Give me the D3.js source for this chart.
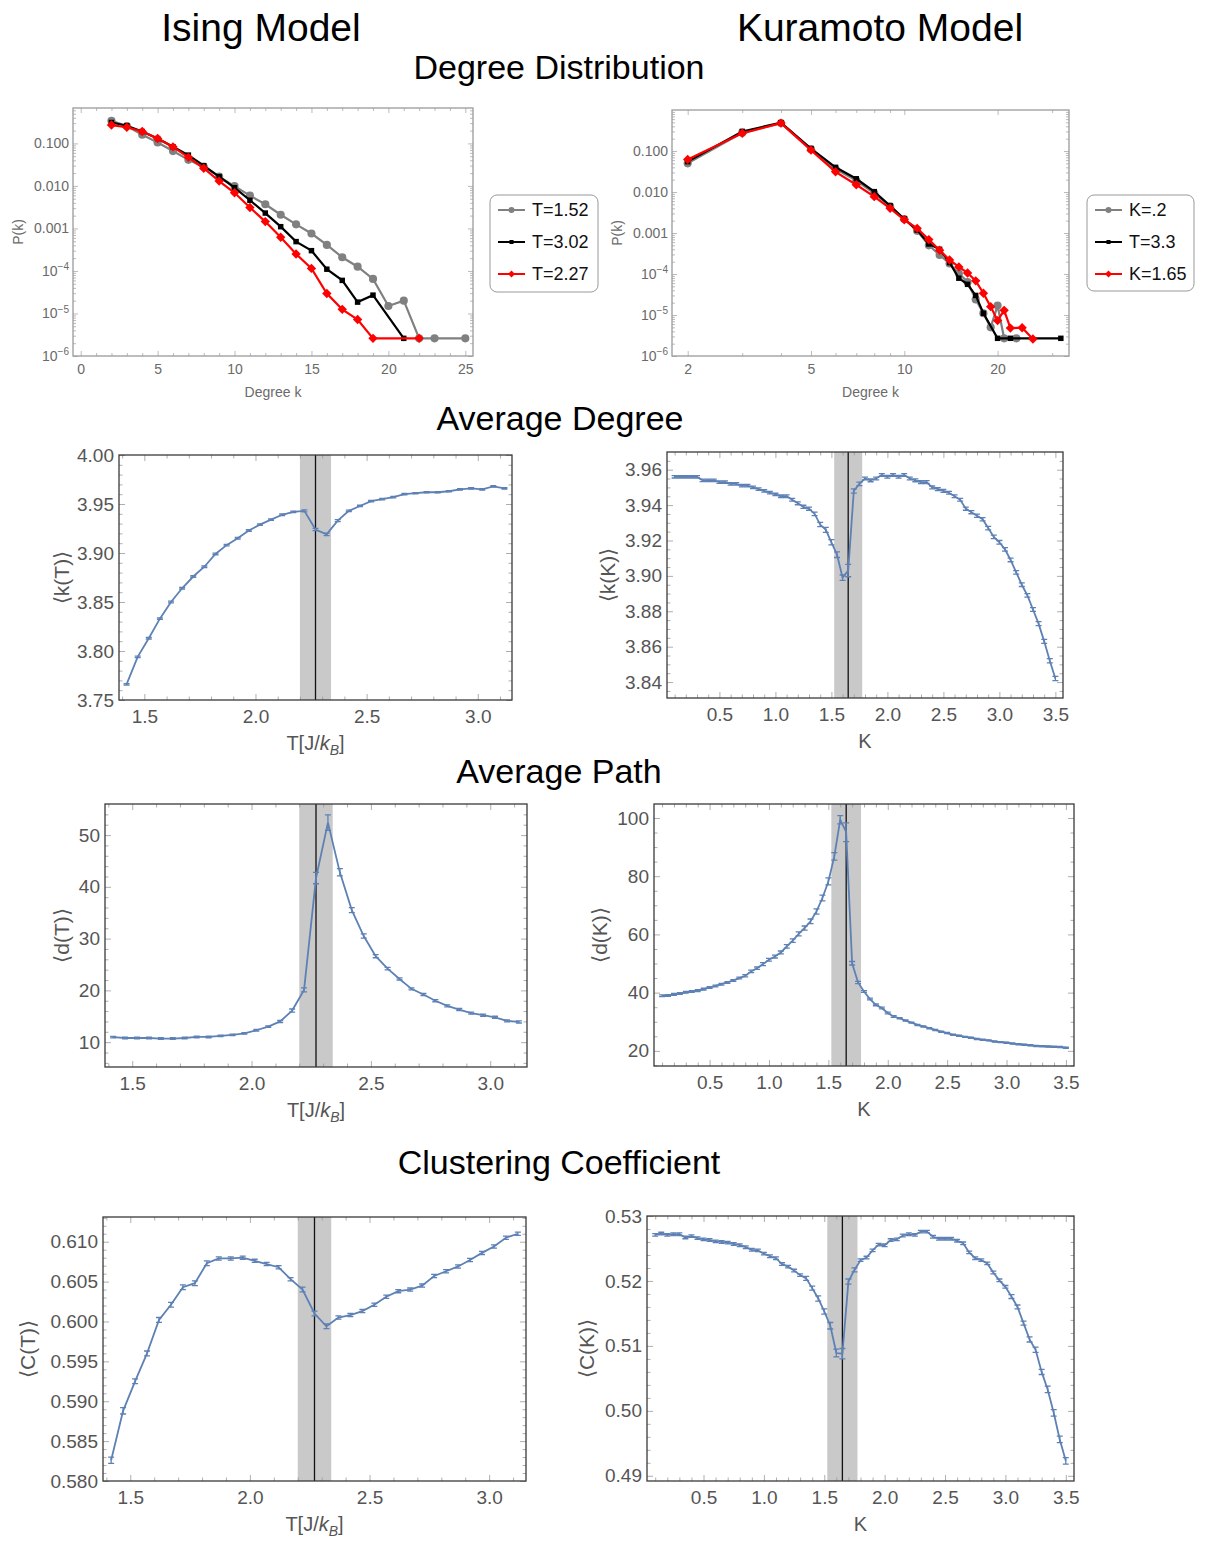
<!DOCTYPE html>
<html>
<head>
<meta charset="utf-8">
<script src="https://cdn.jsdelivr.net/npm/d3@7"></script>
<style>
  body { margin: 0; background: #fff; }
  svg { font-family: "Liberation Sans", Arial, Helvetica, sans-serif; }
</style>
</head>
<body>
<svg id="fig" width="1207" height="1542"></svg>
<script>
// ---------- Degree distribution data (Ising) ----------
const isingLegend = ['T=1.52', 'T=3.02', 'T=2.27'];
const isingK152 = [2,3,4,5,6,7,8,9,10,11,12,13,14,15,16,17,18,19,20,21,22,23,25];
const isingP152 = [0.34,0.257,0.16,0.105,0.066,0.041,0.028,0.0165,0.0099,0.0059,0.0037,0.0021,0.00125,0.00076,0.00041,0.00021,0.000126,6.5e-5,1.5e-5,2.0e-5,2.6e-6,2.6e-6,2.6e-6];
const isingK302 = [2,3,4,5,6,7,8,9,10,11,12,13,14,15,16,17,18,19,21];
const isingP302 = [0.31,0.26,0.19,0.13,0.083,0.053,0.03,0.0165,0.0091,0.0046,0.0023,0.0011,0.00049,0.0003,0.00011,6.0e-5,1.85e-5,2.7e-5,2.6e-6];
const isingK227 = [2,3,4,5,6,7,8,9,10,11,12,13,14,15,16,17,18,19,22];
const isingP227 = [0.27,0.24,0.19,0.13,0.083,0.047,0.026,0.013,0.0069,0.0031,0.00145,0.00062,0.00025,0.000115,2.95e-5,1.25e-5,7.2e-6,2.6e-6,2.6e-6];

// ---------- Degree distribution data (Kuramoto) ----------
const kuraLegend = ['K=.2', 'T=3.3', 'K=1.65'];
const kuraK02 = [2,3,4,5,6,7,8,9,10,11,12,13,14,15,16,17,18,19,20,21,23];
const kuraP02 = [0.05,0.28,0.48,0.11,0.036,0.019,0.0093,0.0045,0.0022,0.00113,0.0005,0.00029,0.00018,0.000103,6.4e-5,2.4e-5,1.1e-5,5e-6,1.7e-5,2.7e-6,2.7e-6];
const kuraK33 = [2,3,4,5,6,7,8,9,10,11,12,13,14,15,16,17,18,20,22,32];
const kuraP33 = [0.055,0.3,0.49,0.115,0.04,0.021,0.0102,0.0046,0.0022,0.00118,0.00054,0.0004,0.00019,7.9e-5,5.6e-5,3.0e-5,1.1e-5,2.7e-6,2.7e-6,2.7e-6];
const kuraK165 = [2,3,4,5,6,7,8,9,10,11,12,13,14,15,16,17,18,19,20,21,22,24,26];
const kuraP165 = [0.062,0.27,0.48,0.105,0.031,0.015,0.0077,0.004,0.0021,0.0013,0.00069,0.00038,0.00022,0.000149,0.000106,6.8e-5,3.4e-5,1.6e-5,7.3e-6,1.3e-5,4.8e-6,4.9e-6,2.6e-6];

// ---------- Ising sweeps ----------
const isingT = [1.42,1.47,1.52,1.57,1.62,1.67,1.72,1.77,1.82,1.87,1.92,1.97,2.02,2.07,2.12,2.17,2.22,2.27,2.32,2.37,2.42,2.47,2.52,2.57,2.62,2.67,2.72,2.77,2.82,2.87,2.92,2.97,3.02,3.07,3.12];
const isingDeg = [3.766,3.794,3.813,3.833,3.850,3.864,3.876,3.886,3.899,3.908,3.915,3.923,3.929,3.934,3.939,3.942,3.943,3.924,3.919,3.933,3.943,3.948,3.953,3.955,3.957,3.960,3.961,3.962,3.962,3.963,3.965,3.966,3.965,3.968,3.966];
const isingDegErr = [0.0008,0.0008,0.0008,0.0008,0.0008,0.0008,0.0008,0.0008,0.0008,0.0008,0.0008,0.0008,0.0008,0.0008,0.0008,0.0008,0.001,0.0012,0.0012,0.001,0.0008,0.0007,0.0007,0.0007,0.0007,0.0007,0.0007,0.0007,0.0007,0.0007,0.0007,0.0007,0.0007,0.0007,0.0007];
const isingPath = [10.97,10.8,10.8,10.8,10.7,10.7,10.8,11.0,11.0,11.2,11.4,11.7,12.3,13.0,14.0,16.1,20.1,41.7,52.4,42.8,35.5,30.5,26.6,24.2,22.2,20.3,19.2,18.0,17.0,16.3,15.6,15.2,14.8,14.1,13.9];
const isingPathErr = [0.15,0.15,0.15,0.15,0.15,0.15,0.15,0.15,0.15,0.15,0.15,0.15,0.15,0.15,0.2,0.3,0.4,1.1,1.5,0.7,0.5,0.4,0.3,0.25,0.2,0.2,0.2,0.2,0.2,0.2,0.2,0.2,0.2,0.2,0.2];
const isingClust = [0.5826,0.5888,0.5925,0.5960,0.6002,0.6021,0.6043,0.6048,0.6073,0.6079,0.6079,0.6080,0.6076,0.6072,0.6068,0.6053,0.6040,0.6010,0.5994,0.6005,0.6008,0.6013,0.6021,0.6031,0.6038,0.6040,0.6045,0.6057,0.6063,0.6069,0.6077,0.6086,0.6094,0.6105,0.6110];
const isingClustErr = [0.0004,0.0004,0.0003,0.0003,0.0003,0.0003,0.0003,0.0003,0.0003,0.0002,0.0002,0.0002,0.0002,0.0002,0.0002,0.0002,0.0003,0.0003,0.0003,0.0002,0.0002,0.0002,0.0002,0.0002,0.0002,0.0002,0.0002,0.0002,0.0002,0.0002,0.0002,0.0002,0.0002,0.0002,0.0002];

// ---------- Kuramoto sweeps ----------
const kuraK = [0.10,0.15,0.20,0.25,0.30,0.35,0.40,0.45,0.50,0.55,0.60,0.65,0.70,0.75,0.80,0.85,0.90,0.95,1.00,1.05,1.10,1.15,1.20,1.25,1.30,1.35,1.40,1.45,1.50,1.55,1.60,1.65,1.70,1.75,1.80,1.85,1.90,1.95,2.00,2.05,2.10,2.15,2.20,2.25,2.30,2.35,2.40,2.45,2.50,2.55,2.60,2.65,2.70,2.75,2.80,2.85,2.90,2.95,3.00,3.05,3.10,3.15,3.20,3.25,3.30,3.35,3.40,3.45,3.50];
const kuraDeg = [3.956,3.956,3.956,3.956,3.956,3.954,3.954,3.954,3.953,3.953,
  3.952,3.952,3.951,3.951,3.950,3.949,3.948,3.947,3.946,3.945,
  3.945,3.943,3.941,3.939,3.938,3.935,3.929,3.926,3.919,3.912,
  3.899,3.903,3.948,3.952,3.955,3.954,3.955,3.957,3.956,3.957,
  3.956,3.957,3.955,3.954,3.953,3.953,3.950,3.949,3.948,3.947,
  3.945,3.943,3.938,3.936,3.934,3.932,3.927,3.922,3.919,3.915,
  3.909,3.902,3.895,3.889,3.881,3.873,3.863,3.852,3.842];
const kuraDegErr = [0.0007,0.0007,0.0007,0.0007,0.0007,0.0007,0.0007,0.0007,0.0007,0.0007,
  0.0007,0.0007,0.0007,0.0007,0.0007,0.0007,0.0007,0.0007,0.0007,0.0007,
  0.0008,0.0008,0.0008,0.0009,0.0009,0.0010,0.0012,0.0014,0.0015,0.0016,
  0.0015,0.0035,0.0012,0.0010,0.0008,0.0008,0.0008,0.0008,0.0008,0.0008,
  0.0008,0.0008,0.0008,0.0008,0.0008,0.0008,0.0008,0.0008,0.0008,0.0008,
  0.0008,0.0008,0.0009,0.0009,0.0009,0.0009,0.0010,0.0010,0.0010,0.0010,
  0.0010,0.0010,0.0010,0.0010,0.0011,0.0011,0.0011,0.0012,0.0012];
const kuraPath = [38.9,39.0,39.4,39.7,40.1,40.4,40.7,41.2,41.8,42.3,
  42.9,43.5,44.2,45.0,45.8,47.3,48.4,49.8,51.3,52.4,
  53.8,55.9,57.9,60.2,62.2,64.5,67.9,72.5,78.2,86.8,
  99.4,95.1,50.1,43.5,40.4,37.8,35.8,34.7,33.0,31.8,
  31.2,30.4,29.7,28.9,28.4,27.8,27.2,26.6,26.1,25.5,
  25.2,24.8,24.5,24.1,23.8,23.6,23.2,23.0,22.8,22.5,
  22.3,22.1,21.9,21.7,21.6,21.5,21.4,21.3,21.1];
const kuraPathErr = [0.3,0.3,0.3,0.3,0.3,0.3,0.3,0.3,0.3,0.3,
  0.3,0.3,0.3,0.3,0.4,0.4,0.4,0.5,0.5,0.5,
  0.5,0.6,0.6,0.7,0.7,0.8,0.9,1.0,1.2,1.3,
  1.4,3.2,0.6,0.4,0.3,0.3,0.3,0.3,0.3,0.3,
  0.2,0.2,0.2,0.2,0.2,0.2,0.2,0.2,0.2,0.2,
  0.2,0.2,0.2,0.2,0.2,0.2,0.2,0.2,0.2,0.2,
  0.2,0.2,0.2,0.2,0.2,0.2,0.2,0.2,0.2];
const kuraClust = [0.5271,0.5273,0.5271,0.5272,0.5272,0.5267,0.5269,0.5266,0.5264,0.5263,
  0.5261,0.5260,0.5259,0.5257,0.5255,0.5252,0.5248,0.5247,0.5242,0.5238,
  0.5235,0.5226,0.5222,0.5216,0.5209,0.5204,0.5189,0.5173,0.5153,0.5131,
  0.5089,0.5088,0.5199,0.5217,0.5232,0.5236,0.5247,0.5256,0.5255,0.5263,
  0.5264,0.5270,0.5272,0.5271,0.5276,0.5276,0.5268,0.5265,0.5265,0.5265,
  0.5262,0.5258,0.5244,0.5235,0.5232,0.5227,0.5213,0.5201,0.5191,0.5176,
  0.5160,0.5135,0.5110,0.5094,0.5060,0.5033,0.4997,0.4956,0.4923];
const kuraClustErr = [0.0002,0.0002,0.0002,0.0002,0.0002,0.0002,0.0002,0.0002,0.0002,0.0002,
  0.0002,0.0002,0.0002,0.0002,0.0002,0.0002,0.0002,0.0002,0.0002,0.0002,
  0.0002,0.0002,0.0002,0.0002,0.0002,0.0003,0.0003,0.0004,0.0004,0.0005,
  0.0006,0.0008,0.0004,0.0003,0.0002,0.0002,0.0002,0.0002,0.0002,0.0002,
  0.0002,0.0002,0.0002,0.0002,0.0002,0.0002,0.0002,0.0002,0.0002,0.0002,
  0.0002,0.0002,0.0002,0.0002,0.0002,0.0002,0.0002,0.0002,0.0002,0.0003,
  0.0003,0.0003,0.0004,0.0004,0.0004,0.0005,0.0005,0.0005,0.0005];

// critical points and shaded bands
const isingTc = 2.27, isingBand = [2.2, 2.34];
const kuraKc = 1.65, kuraBand = [1.525, 1.775];

const BLUE = '#5e81b5';
const svg = d3.select('#fig');

// ---------- headings ----------
[['Ising Model', 261, 41, 39], ['Kuramoto Model', 880, 41, 39],
 ['Degree Distribution', 559, 79, 34], ['Average Degree', 560, 430, 34],
 ['Average Path', 559, 783, 34], ['Clustering Coefficient', 559, 1174, 34]]
  .forEach(([t, x, y, s]) => {
    svg.append('text').attr('x', x).attr('y', y).attr('text-anchor', 'middle')
      .style('font-size', s + 'px').attr('fill', '#000').text(t);
  });

// frame with inward ticks on all four sides, labels on left/bottom
function drawAxes(g, x, y, o) {
  const [left, right] = x.range();
  const [bottom, top] = y.range();
  const sides = [
    [d3.axisBottom, x, `translate(0,${bottom})`, true],
    [d3.axisTop, x, `translate(0,${top})`, false],
    [d3.axisLeft, y, `translate(${left},0)`, true],
    [d3.axisRight, y, `translate(${right},0)`, false]
  ];
  sides.forEach(([fn, sc, tr, labelled]) => {
    const isX = sc === x;
    const maj = isX ? o.xMajor : o.yMajor;
    const min = isX ? o.xMinor : o.yMinor;
    const fmt = isX ? o.xFmt : o.yFmt;
    const gMin = g.append('g').attr('transform', tr)
      .call(fn(sc).tickValues(min).tickSize(-o.minorLen).tickFormat(''));
    const gMaj = g.append('g').attr('transform', tr)
      .call(fn(sc).tickValues(maj).tickSize(-o.tickLen)
        .tickPadding(isX ? o.padX : o.padY).tickFormat(labelled ? fmt : () => ''));
    [gMin, gMaj].forEach(a => {
      a.attr('font-family', null).attr('font-size', null);
      a.select('.domain').remove();
      a.selectAll('line').attr('stroke', o.tickColor).attr('stroke-width', 0.8);
      a.selectAll('text').attr('fill', o.labelColor).style('font-size', o.fontSize + 'px');
    });
    // superscript powers of ten
    gMaj.selectAll('text').each(function () {
      const t = d3.select(this), s = t.text();
      if (s.includes('^')) {
        const [b, e] = s.split('^');
        t.text(b);
        t.append('tspan').attr('dy', '-0.55em').style('font-size', '0.72em').text(e);
      }
    });
  });
  g.append('rect').attr('x', left).attr('y', top)
    .attr('width', right - left).attr('height', bottom - top)
    .attr('fill', 'none').attr('stroke', o.frameColor).attr('stroke-width', 1.3);
}

function minorRange(a, b, step, majors) {
  return d3.range(a, b + step / 2, step).map(v => +v.toFixed(4))
    .filter(v => !majors.some(m => Math.abs(m - v) < step / 4));
}
function logMinors(lo, hi) {
  const out = [];
  for (let e = -7; e <= 2; e++) for (let m = 2; m <= 9; m++) {
    const v = m * Math.pow(10, e);
    if (v >= lo && v <= hi) out.push(v);
  }
  return out;
}
const logFmt = v => {
  const e = Math.round(Math.log10(v));
  return e >= -3 ? v.toFixed(3) : '10^\u2212' + (-e);
};

// ---------- degree distribution panels ----------
const ddStyles = [
  { color: '#808080', shape: d3.symbolCircle, size: 52, rot: 0 },
  { color: '#000000', shape: d3.symbolSquare, size: 30, rot: 0 },
  { color: '#ff0000', shape: d3.symbolSquare, size: 44, rot: 45 }
];

function degreePanel(x, y, series, xMajor, xMinor, xFmt, yTitleX) {
  const g = svg.append('g');
  series.forEach(([ks, ps], i) => {
    const st = ddStyles[i];
    const pts = ks.map((k, j) => [k, ps[j]]);
    g.append('path').datum(pts)
      .attr('d', d3.line().x(d => x(d[0])).y(d => y(d[1])))
      .attr('fill', 'none').attr('stroke', st.color).attr('stroke-width', 2.2);
    g.selectAll(null).data(pts).join('path')
      .attr('transform', d => `translate(${x(d[0])},${y(d[1])}) rotate(${st.rot})`)
      .attr('d', d3.symbol(st.shape, st.size)).attr('fill', st.color);
  });
  const yMajor = [1e-6, 1e-5, 1e-4, 1e-3, 1e-2, 1e-1];
  drawAxes(g, x, y, {
    xMajor, xMinor, xFmt,
    yMajor, yMinor: logMinors(y.domain()[0], y.domain()[1]), yFmt: logFmt,
    tickLen: 5, minorLen: 3, padX: 8, padY: 4,
    tickColor: '#aaa', labelColor: '#6a6a6a', frameColor: '#9a9a9a', fontSize: 14
  });
  const [l, r] = x.range(), [b, t] = y.range();
  g.append('text').attr('x', (l + r) / 2).attr('y', b + 41).attr('text-anchor', 'middle')
    .attr('fill', '#6a6a6a').style('font-size', '14px').text('Degree k');
  g.append('text').attr('transform', `translate(${yTitleX},${(b + t) / 2}) rotate(-90)`)
    .attr('text-anchor', 'middle').attr('dy', '0.35em')
    .attr('fill', '#6a6a6a').style('font-size', '14px').text('P(k)');
}

function legend(x0, y0, w, h, labels) {
  const g = svg.append('g');
  g.append('rect').attr('x', x0).attr('y', y0).attr('width', w).attr('height', h)
    .attr('rx', 7).attr('fill', '#fff').attr('stroke', '#999').attr('stroke-width', 1);
  labels.forEach((lab, i) => {
    const cy = y0 + 15 + i * 32, st = ddStyles[i];
    g.append('line').attr('x1', x0 + 8).attr('x2', x0 + 35).attr('y1', cy).attr('y2', cy)
      .attr('stroke', st.color).attr('stroke-width', 2);
    g.append('path').attr('transform', `translate(${x0 + 21.5},${cy}) rotate(${st.rot})`)
      .attr('d', d3.symbol(st.shape, st.size * 0.55)()).attr('fill', st.color);
    g.append('text').attr('x', x0 + 42).attr('y', cy).attr('dy', '0.36em')
      .attr('fill', '#111').style('font-size', '18px').text(lab);
  });
}

{
  const x = d3.scaleLinear([-0.5, 25.5], [73, 473]);
  const y = d3.scaleLog([1e-6, 0.68], [356, 108]);
  degreePanel(x, y, [[isingK152, isingP152], [isingK302, isingP302], [isingK227, isingP227]],
    [0, 5, 10, 15, 20, 25], minorRange(0, 25, 1, [0, 5, 10, 15, 20, 25]), d3.format('d'), 18);
  legend(490, 195, 108, 97, isingLegend);
}
{
  const x = d3.scaleLog([1.78, 34], [672, 1069]);
  const y = d3.scaleLog([1e-6, 1], [356, 110]);
  degreePanel(x, y, [[kuraK02, kuraP02], [kuraK33, kuraP33], [kuraK165, kuraP165]],
    [2, 5, 10, 20], [3, 4, 6, 7, 8, 9, 30], d3.format('d'), 617);
  legend(1087, 195, 107, 96, kuraLegend);
}

// ---------- sweep panels with error bars ----------
function sweepPanel(o) {
  const g = svg.append('g');
  const x = d3.scaleLinear(o.xDomain, [o.left, o.right]);
  const y = d3.scaleLinear(o.yDomain, [o.bottom, o.top]);
  g.append('rect').attr('x', x(o.band[0])).attr('y', o.top)
    .attr('width', x(o.band[1]) - x(o.band[0])).attr('height', o.bottom - o.top)
    .attr('fill', '#c9c9c9');
  g.append('line').attr('x1', x(o.crit)).attr('x2', x(o.crit))
    .attr('y1', o.top).attr('y2', o.bottom).attr('stroke', '#111').attr('stroke-width', 1.3);
  const pts = o.xs.map((v, i) => ({ x: v, y: o.ys[i], e: o.err[i] }));
  g.append('path').datum(pts)
    .attr('d', d3.line().x(d => x(d.x)).y(d => y(d.y)))
    .attr('fill', 'none').attr('stroke', BLUE).attr('stroke-width', 1.8);
  g.selectAll(null).data(pts).join('path')
    .attr('d', d => {
      const cx = x(d.x), a = y(d.y - d.e), b = y(d.y + d.e);
      return `M${cx},${a}V${b}M${cx - 3},${a}H${cx + 3}M${cx - 3},${b}H${cx + 3}`;
    })
    .attr('fill', 'none').attr('stroke', BLUE).attr('stroke-width', 1.3);
  drawAxes(g, x, y, {
    xMajor: o.xMajor, xMinor: o.xMinor, xFmt: d3.format('.1f'),
    yMajor: o.yMajor, yMinor: o.yMinor, yFmt: o.yFmt,
    tickLen: 6, minorLen: 3.5, padX: 10, padY: 5,
    tickColor: '#999', labelColor: '#555', frameColor: '#3a3a3a', fontSize: 19
  });
  // x title
  const xt = g.append('text').attr('x', (o.left + o.right) / 2).attr('y', o.bottom + 50)
    .attr('text-anchor', 'middle').attr('fill', '#555').style('font-size', '20px');
  if (o.xTitle === 'T') {
    xt.append('tspan').text('T[J/');
    xt.append('tspan').style('font-style', 'italic').text('k');
    xt.append('tspan').style('font-style', 'italic').style('font-size', '14px').attr('dy', 5).text('B');
    xt.append('tspan').attr('dy', -5).text(']');
  } else {
    xt.text(o.xTitle);
  }
  g.append('text').attr('transform', `translate(${o.yTitleX},${(o.top + o.bottom) / 2}) rotate(-90)`)
    .attr('text-anchor', 'middle').attr('dy', '0.35em')
    .attr('fill', '#555').style('font-size', '21px').text(o.yTitle);
}

const isingXMajor = [1.5, 2.0, 2.5, 3.0];
const isingXMinor = minorRange(1.4, 3.1, 0.1, isingXMajor);
const kuraXMajor = [0.5, 1.0, 1.5, 2.0, 2.5, 3.0, 3.5];
const kuraXMinor = minorRange(0.1, 3.5, 0.1, kuraXMajor);
const isingXDom = [1.386, 3.154], kuraXDom = [0.032, 3.568];

function yTicks(a, b, step, mstep) {
  const maj = d3.range(a, b + step / 2, step).map(v => +v.toFixed(4));
  return [maj, minorRange(a - step, b + step, mstep, maj)];
}

// Average degree
{
  const [ma, mi] = yTicks(3.75, 4.0, 0.05, 0.01);
  sweepPanel({ left: 119, right: 512, top: 455, bottom: 700, xDomain: isingXDom, yDomain: [3.75, 4.0],
    xs: isingT, ys: isingDeg, err: isingDegErr, band: isingBand, crit: isingTc,
    xMajor: isingXMajor, xMinor: isingXMinor, yMajor: ma, yMinor: mi.filter(v => v > 3.75 && v < 4.0),
    yFmt: d3.format('.2f'), xTitle: 'T', yTitle: '\u27e8k(T)\u27e9', yTitleX: 62 });
}
{
  const [ma, mi] = yTicks(3.84, 3.96, 0.02, 0.005);
  sweepPanel({ left: 667, right: 1063, top: 452, bottom: 698, xDomain: kuraXDom, yDomain: [3.831, 3.970],
    xs: kuraK, ys: kuraDeg, err: kuraDegErr, band: kuraBand, crit: kuraKc,
    xMajor: kuraXMajor, xMinor: kuraXMinor, yMajor: ma, yMinor: mi.filter(v => v > 3.831 && v < 3.970),
    yFmt: d3.format('.2f'), xTitle: 'K', yTitle: '\u27e8k(K)\u27e9', yTitleX: 608 });
}
// Average path
{
  const [ma, mi] = yTicks(10, 50, 10, 2);
  sweepPanel({ left: 105, right: 527, top: 804, bottom: 1067, xDomain: isingXDom, yDomain: [5.2, 56],
    xs: isingT, ys: isingPath, err: isingPathErr, band: isingBand, crit: isingTc,
    xMajor: isingXMajor, xMinor: isingXMinor, yMajor: ma, yMinor: mi.filter(v => v > 5.2 && v < 56),
    yFmt: d3.format('d'), xTitle: 'T', yTitle: '\u27e8d(T)\u27e9', yTitleX: 62 });
}
{
  const [ma, mi] = yTicks(20, 100, 20, 5);
  sweepPanel({ left: 654, right: 1074, top: 804, bottom: 1066, xDomain: kuraXDom, yDomain: [14.8, 104.8],
    xs: kuraK, ys: kuraPath, err: kuraPathErr, band: kuraBand, crit: kuraKc,
    xMajor: kuraXMajor, xMinor: kuraXMinor, yMajor: ma, yMinor: mi.filter(v => v > 14.8 && v < 104.8),
    yFmt: d3.format('d'), xTitle: 'K', yTitle: '\u27e8d(K)\u27e9', yTitleX: 600 });
}
// Clustering coefficient
{
  const [ma, mi] = yTicks(0.58, 0.61, 0.005, 0.001);
  sweepPanel({ left: 103, right: 526, top: 1217, bottom: 1481, xDomain: isingXDom, yDomain: [0.58, 0.6131],
    xs: isingT, ys: isingClust, err: isingClustErr, band: isingBand, crit: isingTc,
    xMajor: isingXMajor, xMinor: isingXMinor, yMajor: ma, yMinor: mi.filter(v => v > 0.58 && v < 0.6131),
    yFmt: d3.format('.3f'), xTitle: 'T', yTitle: '\u27e8C(T)\u27e9', yTitleX: 28 });
}
{
  const [ma, mi] = yTicks(0.49, 0.53, 0.01, 0.002);
  sweepPanel({ left: 647, right: 1074, top: 1216, bottom: 1481, xDomain: kuraXDom, yDomain: [0.4892, 0.530],
    xs: kuraK, ys: kuraClust, err: kuraClustErr, band: kuraBand, crit: kuraKc,
    xMajor: kuraXMajor, xMinor: kuraXMinor, yMajor: ma, yMinor: mi.filter(v => v > 0.4892 && v < 0.530),
    yFmt: d3.format('.2f'), xTitle: 'K', yTitle: '\u27e8C(K)\u27e9', yTitleX: 587 });
}
</script>
</body>
</html>
